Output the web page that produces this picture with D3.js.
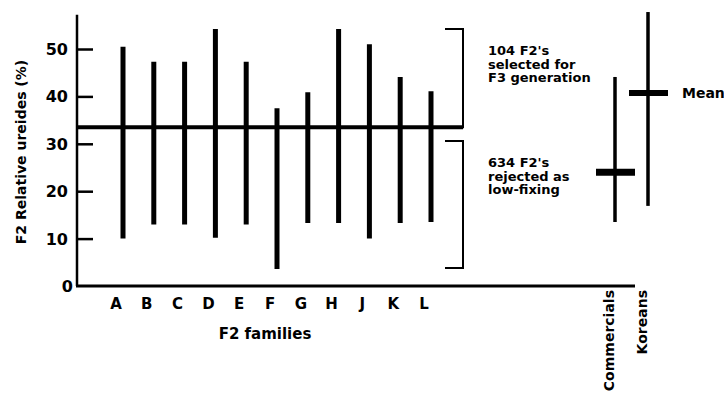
<!DOCTYPE html>
<html>
<head>
<meta charset="utf-8">
<script src="https://cdn.jsdelivr.net/npm/d3@7"></script>
<style>
  body { margin: 0; background: #fff; }
  text { font-family: "DejaVu Sans", sans-serif; font-weight: bold; fill: #000; }
</style>
</head>
<body>
<div id="chart"></div>
<script>
// F2 families: range of relative ureides (%)
var families = ["A", "B", "C", "D", "E", "F", "G", "H", "J", "K", "L"];
var famHigh = [50.5, 47.3, 47.3, 54.2, 47.3, 37.5, 40.9, 54.2, 51, 44.1, 41.1];
var famLow = [10, 13, 13, 10.2, 13, 3.6, 13.3, 13.3, 10, 13.3, 13.5];

// parent groups: range and mean
var groups = ["Commercials", "Koreans"];
var groupHigh = [44.1, 57.8];
var groupLow = [13.5, 16.9];
var groupMean = [24, 40.7];

var threshold = 33.5;           // selection cut-off
var yTicks = [0, 10, 20, 30, 40, 50];
var selectedText = ["104 F2's", "selected for", "F3 generation"];
var rejectedText = ["634 F2's", "rejected as", "low-fixing"];

var WIDTH = 724, HEIGHT = 399;

var svg = d3.select("#chart").append("svg")
    .attr("width", WIDTH)
    .attr("height", HEIGHT);

var y = d3.scaleLinear().domain([0, 50]).range([286, 49]);
var x = d3.scalePoint().domain(families).range([123, 431]);
var xg = d3.scalePoint().domain(groups).range([615, 648]);

var axisX0 = 77, axisX1 = 635;

// axes
svg.append("line")
    .attr("x1", axisX0).attr("x2", axisX0)
    .attr("y1", y(0)).attr("y2", y(57.2))
    .attr("stroke", "#000").attr("stroke-width", 2.5);

svg.append("line")
    .attr("x1", axisX0 - 1).attr("x2", axisX1)
    .attr("y1", y(0)).attr("y2", y(0))
    .attr("stroke", "#000").attr("stroke-width", 3);

// y ticks (drawn inward)
var yAxis = d3.axisRight(y).tickValues(yTicks.filter(function (d) { return d > 0; }))
    .tickSize(16).tickFormat("");
var gy = svg.append("g").attr("transform", "translate(" + axisX0 + ",0)").call(yAxis);
gy.select(".domain").remove();
gy.selectAll(".tick line").attr("stroke", "#000").attr("stroke-width", 2.5);

svg.selectAll(".ylab")
    .data(yTicks).enter()
    .append("text")
    .attr("class", "ylab")
    .attr("x", function (d) { return d === 0 ? 73 : 68; })
    .attr("y", function (d) { return y(d) + 6; })
    .attr("text-anchor", "end")
    .style("font-size", "16px")
    .text(function (d) { return d; });

// y title
svg.append("text")
    .attr("transform", "translate(26," + 152 + ")rotate(-90)")
    .attr("text-anchor", "middle")
    .style("font-size", "14px")
    .text("F2 Relative ureides (%)");

// family bars
svg.selectAll(".fam")
    .data(families).enter()
    .append("line")
    .attr("class", "fam")
    .attr("x1", function (d) { return x(d); })
    .attr("x2", function (d) { return x(d); })
    .attr("y1", function (d, i) { return y(famHigh[i]); })
    .attr("y2", function (d, i) { return y(famLow[i]); })
    .attr("stroke", "#000").attr("stroke-width", 5);

// family labels
svg.selectAll(".famlab")
    .data(families).enter()
    .append("text")
    .attr("class", "famlab")
    .attr("x", function (d) { return x(d) - 7; })
    .attr("y", 309)
    .attr("text-anchor", "middle")
    .style("font-size", "15px")
    .text(function (d) { return d; });

svg.append("text")
    .attr("x", 265).attr("y", 339)
    .attr("text-anchor", "middle")
    .style("font-size", "15px")
    .text("F2 families");

// threshold line
svg.append("line")
    .attr("x1", axisX0).attr("x2", 463)
    .attr("y1", y(threshold)).attr("y2", y(threshold))
    .attr("stroke", "#000").attr("stroke-width", 4);

// brackets
function bracket(top, bottom) {
    var bx0 = 445, bx1 = 463;
    svg.append("path")
        .attr("d", "M" + bx0 + "," + y(top) + "H" + bx1 + "V" + y(bottom) + "H" + bx0)
        .attr("fill", "none").attr("stroke", "#000").attr("stroke-width", 2);
}
bracket(54.2, threshold);
bracket(30.6, 3.8);

function note(lines, baseline) {
    svg.append("text")
        .attr("x", 488).attr("y", baseline)
        .style("font-size", "13px")
        .selectAll("tspan")
        .data(lines).enter()
        .append("tspan")
        .attr("x", 488)
        .attr("dy", function (d, i) { return i === 0 ? 0 : 13.5; })
        .text(function (d) { return d; });
}
note(selectedText, 55);
note(rejectedText, 167);

// group bars and means
svg.selectAll(".grp")
    .data(groups).enter()
    .append("line")
    .attr("class", "grp")
    .attr("x1", function (d) { return xg(d); })
    .attr("x2", function (d) { return xg(d); })
    .attr("y1", function (d, i) { return y(groupHigh[i]); })
    .attr("y2", function (d, i) { return y(groupLow[i]); })
    .attr("stroke", "#000").attr("stroke-width", 3.5);

svg.selectAll(".mean")
    .data(groups).enter()
    .append("line")
    .attr("class", "mean")
    .attr("x1", function (d) { return xg(d) - 19; })
    .attr("x2", function (d) { return xg(d) + 20; })
    .attr("y1", function (d, i) { return y(groupMean[i]); })
    .attr("y2", function (d, i) { return y(groupMean[i]); })
    .attr("stroke", "#000").attr("stroke-width", function (d, i) { return i === 0 ? 7 : 6; });

svg.append("text")
    .attr("x", 682).attr("y", y(groupMean[1]) + 5)
    .style("font-size", "14px")
    .text("Mean");

svg.selectAll(".grplab")
    .data(groups).enter()
    .append("text")
    .attr("class", "grplab")
    .attr("transform", function (d) { return "translate(" + (xg(d) - 1) + ",290)rotate(-90)"; })
    .attr("text-anchor", "end")
    .style("font-size", "14px")
    .text(function (d) { return d; });
</script>
</body>
</html>
